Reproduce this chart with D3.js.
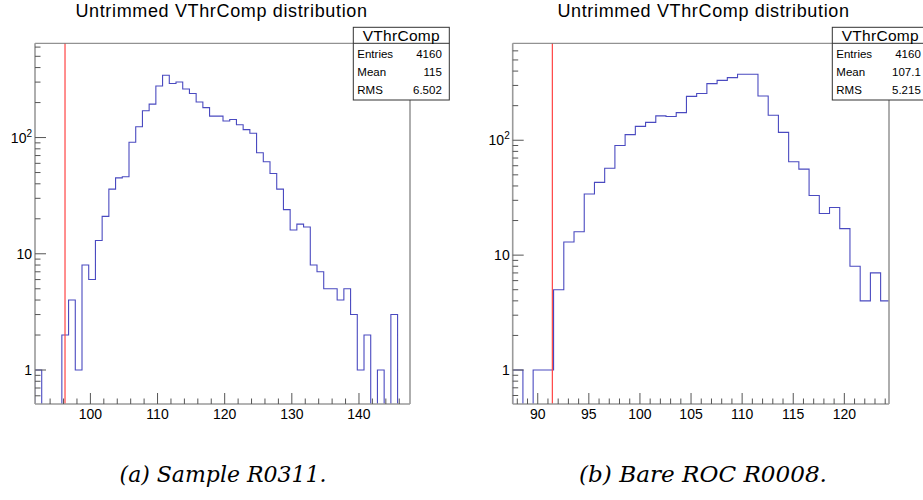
<!DOCTYPE html>
<html><head><meta charset="utf-8">
<script src="https://cdn.jsdelivr.net/npm/d3@7/dist/d3.min.js"></script>
<style>html,body{margin:0;padding:0;background:#fff;}svg{display:block;}</style>
</head><body><svg id="c" width="923" height="500"></svg>
<script>
// ---------- data ----------
const titleText = "Untrimmed VThrComp distribution";
const histName = "VThrComp";
const statLabels = ["Entries", "Mean", "RMS"];

// panel (a)
const binLowA = 91.75;           // lower edge of first bin, width 1
const binWidthA = 1;
const countsA = [1,0,0,0,2,4,1,8,6,13,21,36,45,46,91,124,170,194,278,344,292,301,262,239,202,181,153,153,139,143,129,117,109,74,62,49,36,24,16,18,17,8,7,5,5,4,5,3,1,2,0,1,0,3,0,0];
const xDomainA = [91.75, 147.6];
const yDomainA = [0.51, 647];
const xMajorA = [100, 110, 120, 130, 140];
const xMinorA = [94, 96, 98, 102, 104, 106, 108, 112, 114, 116, 118, 122, 124, 126, 128, 132, 134, 136, 138, 142, 144, 146];
const cutA = 96.22;
const statsA = ["4160", "115", "6.502"];
const captionA = "(a) Sample R0311.";

// panel (b)
const binLowB = 87.55;
const binWidthB = 1;
const countsB = [1,0,1,1,5,13,16,34,43,57,90,112,132,143,163,161,174,241,255,311,332,351,375,375,243,165,117,65,56,33,23,26,17,8,4,7,4];
const xDomainB = [87.55, 124.37];
const yDomainB = [0.506, 698];
const xMajorB = [90, 95, 100, 105, 110, 115, 120];
const xMinorB = [88,89,91,92,93,94,96,97,98,99,101,102,103,104,106,107,108,109,111,112,113,114,116,117,118,119,121,122,123,124];
const cutB = 91.43;
const statsB = ["4160", "107.1", "5.215"];
const captionB = "(b) Bare ROC R0008.";

const yMajor = [1, 10, 100];
const yMinorMult = [2,3,4,5,6,7,8,9];

// ---------- drawing ----------
const svg = d3.select("#c");
const FONT = "Liberation Sans, Arial, Helvetica, sans-serif";
const AXIS = "#9a9a9a";
const HIST = "#4a4ac0";
const CUT = "#ff4444";

function drawPanel(p, idx) {
  const g = svg.append("g");
  const x = d3.scaleLinear().domain(p.xDomain).range([p.left, p.right]);
  const y = d3.scaleLog().domain(p.yDomain).range([p.bottom, p.top]);
  const clipId = "clip" + idx;
  svg.append("clipPath").attr("id", clipId).append("rect")
    .attr("x", p.left).attr("y", p.top).attr("width", p.right - p.left).attr("height", p.bottom - p.top);

  // title
  g.append("text").attr("x", p.titleX).attr("y", 17).attr("text-anchor", "middle")
    .attr("font-family", FONT).attr("font-size", 18).attr("letter-spacing", 0.65).attr("fill", "#000").text(titleText);

  // histogram step path
  const ymin = p.yDomain[0];
  const yy = v => y(Math.max(v, ymin * 0.9));
  let d = "";
  p.counts.forEach((v, i) => {
    const lo = p.binLow + i * p.binWidth, hi = lo + p.binWidth;
    if (i === 0) d += `M${x(lo)},${p.bottom + 2}V${yy(v)}`;
    else d += `V${yy(v)}`;
    d += `H${x(hi)}`;
  });
  g.append("path").attr("d", d).attr("fill", "none").attr("stroke", HIST).attr("stroke-width", 1.1)
    .attr("clip-path", `url(#${clipId})`);

  // cut line
  g.append("line").attr("x1", x(p.cut)).attr("x2", x(p.cut)).attr("y1", p.top).attr("y2", p.bottom)
    .attr("stroke", CUT).attr("stroke-width", 1.2);

  // frame
  g.append("line").attr("x1", p.left).attr("x2", p.right).attr("y1", p.top).attr("y2", p.top).attr("stroke", "#777").attr("stroke-width", 1);
  g.append("line").attr("x1", p.right).attr("x2", p.right).attr("y1", p.top).attr("y2", p.bottom).attr("stroke", AXIS).attr("stroke-width", 1.6);
  g.append("line").attr("x1", p.left).attr("x2", p.left).attr("y1", p.top).attr("y2", p.bottom).attr("stroke", AXIS).attr("stroke-width", 1.6);
  g.append("line").attr("x1", p.left).attr("x2", p.right).attr("y1", p.bottom).attr("y2", p.bottom).attr("stroke", AXIS).attr("stroke-width", 1.6);

  // x ticks (inward)
  p.xMajor.forEach(t => {
    g.append("line").attr("x1", x(t)).attr("x2", x(t)).attr("y1", p.bottom).attr("y2", p.bottom - 11).attr("stroke", "#555");
    g.append("text").attr("x", x(t)).attr("y", p.bottom + 15).attr("text-anchor", "middle")
      .attr("font-family", FONT).attr("font-size", 14).text(t);
  });
  p.xMinor.forEach(t => {
    g.append("line").attr("x1", x(t)).attr("x2", x(t)).attr("y1", p.bottom).attr("y2", p.bottom - 5.5).attr("stroke", "#555");
  });

  // y ticks (log)
  const [d0, d1] = p.yDomain;
  for (let e = -1; e <= 3; e++) {
    const base = Math.pow(10, e);
    yMinorMult.forEach(m => {
      const v = m * base;
      if (v > d0 && v < d1) g.append("line").attr("x1", p.left).attr("x2", p.left + 5.5).attr("y1", y(v)).attr("y2", y(v)).attr("stroke", "#555");
    });
  }
  yMajor.forEach(v => {
    g.append("line").attr("x1", p.left).attr("x2", p.left + 11).attr("y1", y(v)).attr("y2", y(v)).attr("stroke", "#555");
    const t = g.append("text").attr("x", p.left - 3).attr("y", y(v) + 5).attr("text-anchor", "end")
      .attr("font-family", FONT).attr("font-size", 14);
    if (v === 100) {
      t.append("tspan").text("10");
      t.append("tspan").attr("font-size", 10).attr("dy", -6).text("2");
    } else t.text(v);
  });

  // stats box
  const bx = p.boxX, bw = 96, by = 27.3, bh = 72.7;
  const sb = g.append("g");
  sb.append("rect").attr("x", bx).attr("y", by).attr("width", bw).attr("height", bh)
    .attr("fill", "#fff").attr("stroke", "#333").attr("stroke-width", 1);
  sb.append("line").attr("x1", bx).attr("x2", bx + bw).attr("y1", 43.3).attr("y2", 43.3).attr("stroke", "#333");
  sb.append("text").attr("x", bx + bw / 2).attr("y", 41).attr("text-anchor", "middle")
    .attr("font-family", FONT).attr("font-size", 15.5).attr("letter-spacing", 0.3).text(histName);
  const rowsY = [57.5, 76, 94];
  statLabels.forEach((lab, i) => {
    sb.append("text").attr("x", bx + 4).attr("y", rowsY[i]).attr("font-family", FONT).attr("font-size", 11.5).text(lab);
    sb.append("text").attr("x", bx + 88.5).attr("y", rowsY[i]).attr("text-anchor", "end")
      .attr("font-family", FONT).attr("font-size", 11.5).text(p.stats[i]);
  });

  // caption (fit to the reference width)
  const cap = g.append("text").attr("x", p.captionX).attr("y", 482).attr("text-anchor", "middle")
    .attr("font-family", "DejaVu Serif, Liberation Serif, serif").attr("font-style", "italic")
    .attr("font-size", 19).text(p.caption);
  const len = cap.node().getComputedTextLength();
  if (len > 0) cap.attr("font-size", 19 * p.captionW / len);
}

drawPanel({left: 35, right: 410, top: 43.3, bottom: 404, xDomain: xDomainA, yDomain: yDomainA,
  counts: countsA, binLow: binLowA, binWidth: binWidthA, xMajor: xMajorA, xMinor: xMinorA,
  cut: cutA, stats: statsA, caption: captionA, titleX: 221.5, captionX: 223, captionW: 207, boxX: 353.3}, 0);
drawPanel({left: 512.7, right: 889, top: 43.3, bottom: 404, xDomain: xDomainB, yDomain: yDomainB,
  counts: countsB, binLow: binLowB, binWidth: binWidthB, xMajor: xMajorB, xMinor: xMinorB,
  cut: cutB, stats: statsB, caption: captionB, titleX: 703.5, captionX: 703, captionW: 248, boxX: 832.3}, 1);
</script></body></html>
